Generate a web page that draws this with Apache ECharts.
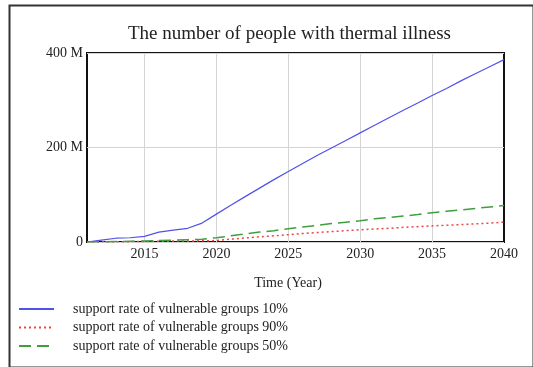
<!DOCTYPE html>
<html>
<head>
<meta charset="utf-8">
<script src="https://cdn.jsdelivr.net/npm/echarts@6/dist/echarts.min.js"></script>
<style>
  html, body { margin: 0; padding: 0; background: #fff; }
  #chart { width: 533px; height: 367px; }
</style>
</head>
<body>
<div id="chart"></div>
<script>
// years on the x axis
const years = [];
for (let y = 2011; y <= 2040; y++) years.push(String(y));

// people with thermal illness, in millions
const rate10 = [0, 4, 8, 9, 12, 21, 25, 29, 40, 59, 78, 96, 114, 132, 149,
  166, 183, 199, 215, 231, 247, 263, 279, 294, 310, 325, 341, 356, 371, 386];
const rate90 = [0, 0.3, 0.5, 0.8, 1, 1.5, 2, 2, 2.5, 3, 6, 8.5, 11, 13, 15.5,
  18, 20, 22, 24, 26, 27.5, 29, 31, 32.5, 34, 35.5, 37, 38.5, 40, 42];
const rate50 = [0, 0.5, 1, 1.5, 2, 3, 4, 5, 6, 9, 13, 17, 21, 24, 28,
  32, 35, 39, 42, 45, 49, 52, 55, 58, 62, 65, 68, 71, 74, 77];

const seriesNames = [
  'support rate of vulnerable groups 10%',
  'support rate of vulnerable groups 90%',
  'support rate of vulnerable groups 50%'
];

const font = 'Liberation Serif';
const isFive = (i, v) => Number(v) % 5 === 0;
const innerFive = (i, v) => isFive(i, v) && i !== years.length - 1;

const chart = echarts.init(document.getElementById('chart'));
chart.setOption({
  animation: false,
  backgroundColor: '#fff',
  title: {
    text: 'The number of people with thermal illness',
    left: 123,
    top: 20,
    textStyle: { fontFamily: font, fontSize: 19, fontWeight: 'normal', color: '#222' }
  },
  graphic: [{
    type: 'rect',
    left: 7, top: 3,
    shape: { width: 524, height: 362 },
    style: { fill: 'none', stroke: '#333', lineWidth: 2 },
    silent: true
  }],
  grid: {
    left: 87, top: 53, right: 29, bottom: 125,
    show: true,
    borderColor: '#111',
    borderWidth: 2
  },
  xAxis: {
    type: 'category',
    data: years,
    boundaryGap: false,
    name: 'Time (Year)',
    nameLocation: 'middle',
    nameGap: 34,
    nameTextStyle: { fontFamily: font, fontSize: 14, color: '#222', padding: [0, 15, 0, 0] },
    axisLine: { show: false },
    axisTick: { show: false },
    axisLabel: { interval: isFive, fontFamily: font, fontSize: 14, color: '#222', margin: 5 },
    splitLine: { show: true, interval: innerFive, lineStyle: { color: '#d4d4d4', width: 1 } }
  },
  yAxis: {
    type: 'value',
    min: 0,
    max: 400,
    interval: 200,
    axisLine: { show: false },
    axisTick: { show: false },
    axisLabel: { fontFamily: font, fontSize: 14, color: '#222', margin: 4,
      formatter: v => (v === 0 ? '0' : v + ' M') },
    splitLine: { show: true, lineStyle: { color: '#d4d4d4', width: 1 } }
  },
  legend: {
    orient: 'vertical',
    left: 18,
    top: 302,
    padding: 0,
    itemWidth: 35,
    itemHeight: 14,
    itemGap: 4.5,
    itemStyle: { opacity: 0 },
    textStyle: { fontFamily: font, fontSize: 14, color: '#222', padding: [0, 0, 0, 14] },
    data: seriesNames
  },
  series: [
    {
      name: seriesNames[0], type: 'line', data: rate10, symbol: 'none',
      lineStyle: { color: '#5252e8', width: 1.2 }, itemStyle: { color: '#5252e8' }
    },
    {
      name: seriesNames[1], type: 'line', data: rate90, symbol: 'none',
      lineStyle: { color: '#ee4444', width: 1.5, type: [2, 3] }, itemStyle: { color: '#ee4444' }
    },
    {
      name: seriesNames[2], type: 'line', data: rate50, symbol: 'none',
      lineStyle: { color: '#3f9f3f', width: 1.5, type: [12, 6] }, itemStyle: { color: '#3f9f3f' }
    }
  ]
});
</script>
</body>
</html>
